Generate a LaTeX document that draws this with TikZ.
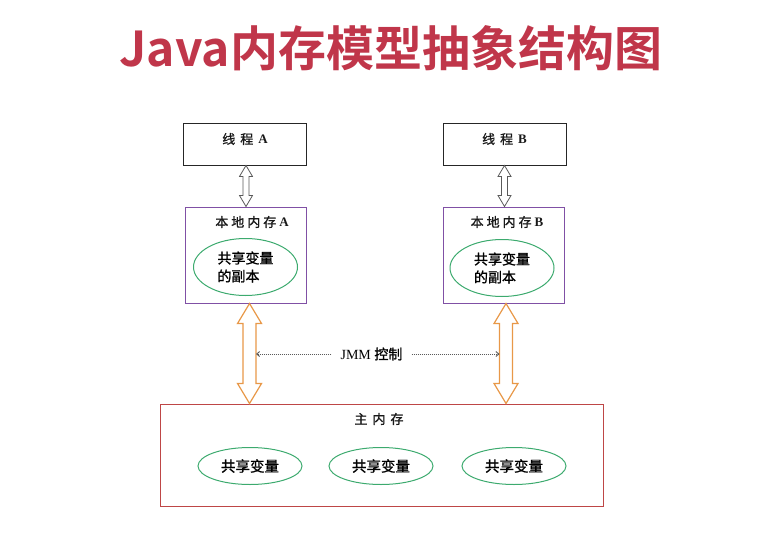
\documentclass[tikz,border=0pt]{standalone}
\usepackage{fontspec}
\setmainfont{Liberation Serif}
\newfontfamily\cjk[FakeBold=1.2]{Noto Sans CJK SC}
\newfontfamily\titlefont{Noto Sans CJK SC Bold}
\usetikzlibrary{calc,arrows.meta,shapes.geometric}
\definecolor{titlered}{RGB}{192,54,74}
\definecolor{lpurple}{RGB}{128,80,165}
\definecolor{mred}{RGB}{190,70,70}
\definecolor{egreen}{RGB}{60,170,110}
\definecolor{aorange}{RGB}{232,152,72}
\definecolor{agray}{RGB}{90,90,90}
\newcommand{\dbarrow}[8]{%
  \coordinate (#8s) at ([xshift=#4pt]#2);
  \coordinate (#8e) at (#8s |- #3);
  \draw[#1] (#8s) -- ([shift={(#5pt,-#7pt)}]#8s) -- ([shift={(#6pt,-#7pt)}]#8s)
    -- ([shift={(#6pt,#7pt)}]#8e) -- ([shift={(#5pt,#7pt)}]#8e) -- (#8e)
    -- ([shift={(-#5pt,#7pt)}]#8e) -- ([shift={(-#6pt,#7pt)}]#8e)
    -- ([shift={(-#6pt,-#7pt)}]#8s) -- ([shift={(-#5pt,-#7pt)}]#8s) -- cycle;}
\newcommand{\latb}[1]{{\rmfamily\bfseries #1}}
\begin{document}
\begin{tikzpicture}[x=1pt,y=-1pt,
  threadbox/.style={draw=black!85, line width=0.9pt, minimum width=123pt, minimum height=42pt, inner sep=0pt},
  localbox/.style={draw=lpurple, line width=1pt, minimum width=121pt, minimum height=96pt, inner sep=0pt},
  mainbox/.style={draw=mred, line width=1pt, minimum width=443pt, minimum height=102pt, inner sep=0pt},
  lbl/.style={inner sep=0pt, font=\cjk\fontsize{13}{15}\selectfont, text=black!90},
  copyell/.style={ellipse, draw=egreen, line width=1pt, minimum width=104pt, minimum height=57pt, inner sep=0pt, align=left, font=\cjk\fontsize{14}{18}\selectfont},
  varell/.style={ellipse, draw=egreen, line width=1pt, minimum width=104pt, minimum height=37pt, inner sep=0pt, font=\cjk\fontsize{14.5}{16}\selectfont},
  thinarrow/.style={draw=agray, fill=white, line width=0.8pt, line join=miter},
  orangearrow/.style={draw=aorange, fill=white, line width=1.2pt, line join=miter},
  dotarr/.style={draw=agray, line width=0.9pt, dash pattern=on 1pt off 1pt, -{Straight Barb[length=3pt,width=5pt]}}
]
\useasboundingbox (0,0) rectangle (776,543);
\node[font=\titlefont\fontsize{48}{52}\selectfont, text=titlered, inner sep=0pt] (title) at (391,48) {Java内存模型抽象结构图};

\node[threadbox] (tA) at (244.5,144) {};
\node[lbl] (tAl) at (245,139) {线\hspace{5pt}程\hspace{5pt}\latb{A}};
\node[threadbox] (tB) at (504.5,144) {};
\node[lbl] (tBl) at (504.5,139) {线\hspace{5pt}程\hspace{5pt}\latb{B}};

\node[localbox] (lA) at (245.5,255) {};
\node[lbl] (lAl) at (252,222) {本\hspace{3pt}地\hspace{3pt}内\hspace{3pt}存\hspace{3pt}\latb{A}};
\node[copyell] (eA) at (245.5,267) {共享变量\\的副本};
\node[localbox] (lB) at (504,255) {};
\node[lbl] (lBl) at (507,222) {本\hspace{3pt}地\hspace{3pt}内\hspace{3pt}存\hspace{3pt}\latb{B}};
\node[copyell] (eB) at (502,268) {共享变量\\的副本};

\node[mainbox] (main) at (381.5,455) {};
\node[lbl] (mainl) at (379,419) {主\hspace{5pt}内\hspace{5pt}存};
\node[varell] (v1) at (250,466) {共享变量};
\node[varell] (v2) at (381,466) {共享变量};
\node[varell] (v3) at (514,466) {共享变量};

\dbarrow{thinarrow}{tA.south}{lA.north}{1.5}{6.5}{3}{11}{ta}
\dbarrow{thinarrow}{tB.south}{lB.north}{0}{6.5}{3}{11}{tb}
\dbarrow{orangearrow}{lA.south}{main.north}{4}{12}{6.5}{20}{oa}
\dbarrow{orangearrow}{lB.south}{main.north}{2}{12}{6.5}{20}{ob}

\node[inner ysep=0pt, inner xsep=9pt, font=\fontsize{14}{16}\selectfont] (jmm) at (371.5,354) {JMM\ {\cjk 控制}};
\coordinate (jl) at ([xshift=6.5pt]oas |- jmm.west);
\coordinate (jr) at ([xshift=-6.5pt]obs |- jmm.east);
\draw[dotarr] (jmm.west) -- (jl);
\draw[dotarr] (jmm.east) -- (jr);
\end{tikzpicture}
\end{document}
